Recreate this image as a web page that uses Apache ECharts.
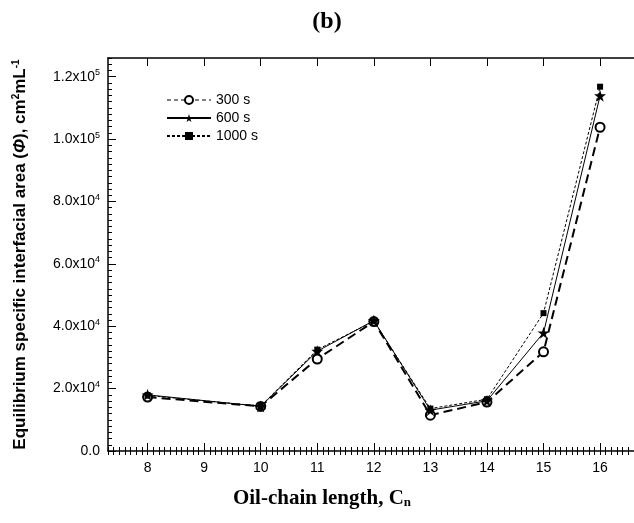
<!DOCTYPE html>
<html>
<head>
<meta charset="utf-8">
<script src="https://cdn.jsdelivr.net/npm/echarts@6/dist/echarts.min.js"></script>
<style>
  html, body { margin: 0; padding: 0; background: #fff; }
  #Echarts1 { width: 634px; height: 523px; }
</style>
</head>
<body>
<div id="Echarts1"></div>
<script>
/************** 数据 ***************/
var chainLength = [8, 10, 11, 12, 13, 14, 15, 16];
var area300 = [17300, 14300, 29500, 41500, 11500, 15700, 31800, 103800];
var area600 = [18000, 14300, 32000, 41800, 13100, 16100, 37900, 113900];
var area1000 = [17800, 14400, 32500, 41600, 13600, 16600, 44200, 116800];
var xTicks = [8, 9, 10, 11, 12, 13, 14, 15, 16];
var yTicks = [0, 20000, 40000, 60000, 80000, 100000, 120000];

/************** 配置 ***************/
var X_MIN = 7.3, X_MAX = 16.6;
var Y_MIN = 0, Y_MAX = 126000;
var SANS = '"Liberation Sans", Arial, sans-serif';
var SERIF = '"Liberation Serif", "Times New Roman", serif';
var STAR = 'path://M50,0 L61,35 L98,35 L68,57 L79,91 L50,70 L21,91 L32,57 L2,35 L39,35 Z';

function zipXY(ys) {
    return chainLength.map(function (x, i) { return [x, ys[i]]; });
}

// 刻度标签：1.2x10^5 形式
function sciLabel(v) {
    if (v === 0) return '0.0';
    var e = Math.floor(Math.log10(v));
    var m = (v / Math.pow(10, e)).toFixed(1);
    return '{n|' + m + 'x10}{s|' + e + '}';
}

initEcharts1();

function initEcharts1() {
    var myChart = echarts.init(document.getElementById('Echarts1'));

    var axisBlack = { color: '#000', width: 1.5 };

    var option = {
        backgroundColor: '#fff',
        animation: false,
        title: {
            text: '(b)',
            left: 322,
            textAlign: 'center',
            top: 5,
            textStyle: { fontFamily: SERIF, fontWeight: 'bold', fontSize: 24, color: '#000' }
        },
        legend: {
            orient: 'vertical',
            left: 161,
            top: 88,
            itemWidth: 44,
            itemHeight: 10,
            itemGap: 4,
            textStyle: { fontFamily: SANS, fontSize: 14, color: '#000' },
            data: [
                { name: '300 s', lineStyle: { width: 1, type: [4, 3] } },
                { name: '600 s' },
                { name: '1000 s' }
            ]
        },
        grid: { left: 108, right: 0, top: 58, bottom: 72 },
        xAxis: [
            {
                type: 'value', min: X_MIN, max: X_MAX, position: 'bottom',
                name: '{t|Oil-chain length, C}{sub|n}',
                nameLocation: 'middle',
                nameGap: 37,
                nameTextStyle: {
                    padding: [0, 98, 0, 0],
                    rich: {
                        t: { fontFamily: SERIF, fontWeight: 'bold', fontSize: 21, color: '#000' },
                        sub: { fontFamily: SERIF, fontWeight: 'bold', fontSize: 13, color: '#000', padding: [8, 0, 0, 0] }
                    }
                },
                axisLine: { onZero: false, lineStyle: axisBlack },
                axisTick: { inside: true, length: 8, customValues: xTicks, lineStyle: { color: '#000' } },
                axisLabel: { customValues: xTicks, margin: 10, fontFamily: SANS, fontSize: 14, color: '#000' },
                splitLine: { show: false }
            },
            {
                type: 'value', min: X_MIN, max: X_MAX, interval: 0.1, position: 'bottom',
                axisLine: { show: false },
                axisTick: { inside: true, length: 4, lineStyle: { color: '#000' } },
                axisLabel: { show: false },
                splitLine: { show: false }
            },
            {
                type: 'value', min: X_MIN, max: X_MAX, position: 'top',
                axisLine: { onZero: false, lineStyle: axisBlack },
                axisTick: { inside: true, length: 8, customValues: xTicks, lineStyle: { color: '#000' } },
                axisLabel: { show: false },
                splitLine: { show: false }
            },
            {
                type: 'value', min: X_MIN, max: X_MAX, interval: 0.1, position: 'top',
                axisLine: { show: false },
                axisTick: { inside: true, length: 4, lineStyle: { color: '#000' } },
                axisLabel: { show: false },
                splitLine: { show: false }
            }
        ],
        yAxis: [
            {
                type: 'value', min: Y_MIN, max: Y_MAX, position: 'left',
                name: '{a|Equilibrium specific interfacial area (}{i|Φ}{a|), cm}{s|2}{a|mL}{s|-1}',
                nameLocation: 'middle',
                nameRotate: 90,
                nameGap: 78,
                nameTextStyle: {
                    rich: {
                        a: { fontFamily: SANS, fontWeight: 'bold', fontSize: 17, color: '#000' },
                        i: { fontFamily: SANS, fontWeight: 'bold', fontStyle: 'italic', fontSize: 17, color: '#000' },
                        s: { fontFamily: SANS, fontWeight: 'bold', fontSize: 10, color: '#000', padding: [0, 0, 9, 0] }
                    }
                },
                axisLine: { onZero: false, lineStyle: axisBlack },
                axisTick: { inside: true, length: 8, customValues: yTicks, lineStyle: { color: '#000' } },
                axisLabel: {
                    customValues: yTicks,
                    margin: 8,
                    formatter: sciLabel,
                    fontFamily: SANS, fontSize: 14, color: '#000',
                    rich: {
                        n: { fontFamily: SANS, fontSize: 14, color: '#000' },
                        s: { fontFamily: SANS, fontSize: 9, color: '#000', padding: [0, 0, 8, 0] }
                    }
                },
                splitLine: { show: false }
            },
            {
                type: 'value', min: Y_MIN, max: Y_MAX, interval: 2000, position: 'left',
                axisLine: { show: false },
                axisTick: { inside: true, length: 4, lineStyle: { color: '#000' } },
                axisLabel: { show: false },
                splitLine: { show: false }
            }
        ],
        series: [
            {
                name: '300 s',
                type: 'line',
                data: zipXY(area300),
                symbol: 'emptyCircle',
                symbolSize: 9,
                itemStyle: { color: '#000', borderWidth: 1 },
                lineStyle: { color: '#000', width: 2, type: [9, 5] },
                z: 2
            },
            {
                name: '600 s',
                type: 'line',
                data: zipXY(area600),
                symbol: STAR,
                symbolSize: 12,
                itemStyle: { color: '#000' },
                lineStyle: { color: '#000', width: 1, type: 'solid' },
                z: 3
            },
            {
                name: '1000 s',
                type: 'line',
                data: zipXY(area1000),
                symbol: 'rect',
                symbolSize: 6,
                itemStyle: { color: '#000' },
                lineStyle: { color: '#000', width: 1, type: [3, 2] },
                z: 4
            }
        ]
    };

    // 使用刚指定的配置项和数据显示图表。
    myChart.setOption(option);
}
</script>
</body>
</html>
